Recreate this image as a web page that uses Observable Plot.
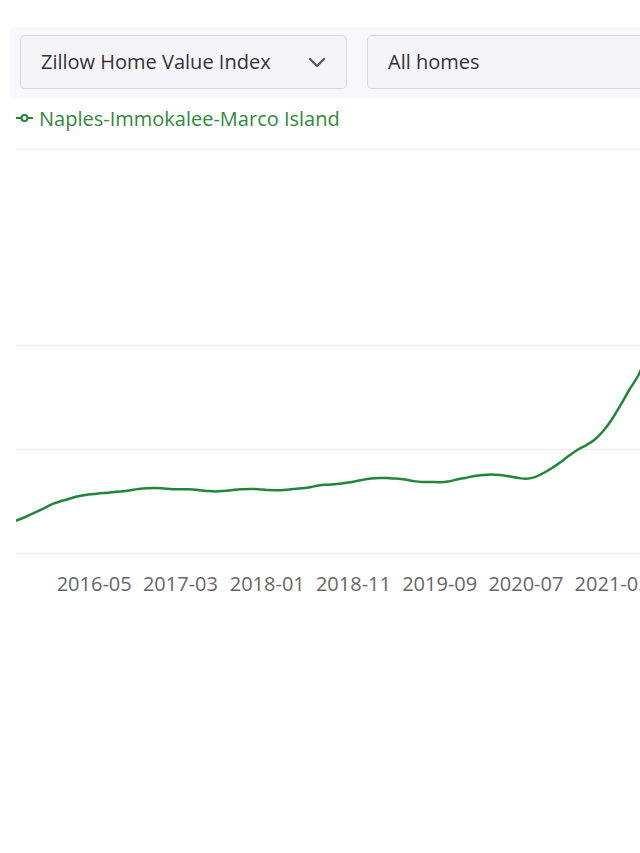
<!DOCTYPE html>
<html>
<head>
<meta charset="utf-8">
<script src="https://cdn.jsdelivr.net/npm/d3@7"></script>
<script src="https://cdn.jsdelivr.net/npm/@observablehq/plot@0.6"></script>
<style>
html, body { margin: 0; padding: 0; background: #fff; width: 640px; height: 853px; overflow: hidden; font-family: "Open Sans", "Noto Sans", sans-serif; }
#wrap { position: relative; width: 640px; height: 853px; overflow: hidden; }
.panel { position: absolute; left: 10px; top: 27px; width: 660px; height: 71px; background: #f8f8fa; border-radius: 4px; }
.sel { position: absolute; top: 35px; height: 54px; box-sizing: border-box; border: 1px solid #d9d9e0; border-radius: 5px; background: #f5f5f9; font-size: 20px; color: #333; line-height: 52px; padding-left: 20px; white-space: nowrap; }
.chev { position: absolute; right: 20px; top: 20px; width: 18px; height: 12px; }
.legend { position: absolute; left: 16px; top: 104px; height: 28px; display: flex; align-items: center; color: #2f8a3c; font-size: 20px; white-space: nowrap; }
.legend svg { margin-right: 6px; }
#chart { position: absolute; left: 0; top: 130px; }
</style>
</head>
<body>
<div id="wrap">
  <div class="panel"></div>
  <div class="sel" style="left:20px;width:327px;">Zillow Home Value Index
    <svg class="chev" viewBox="0 0 18 12"><path d="M2 3 L9 10 L16 3" fill="none" stroke="#555" stroke-width="2.2" stroke-linecap="round" stroke-linejoin="round"/></svg>
  </div>
  <div class="sel" style="left:367px;width:320px;">All homes</div>
  <div class="legend" id="legend"></div>
  <div id="chart"></div>
</div>
<script>
// --- data ---
const seriesName = "Naples-Immokalee-Marco Island";
const startMonth = "2015-08";
// Home value (thousands of USD), monthly from 2015-08
const values = [
  281.7, 285.1, 288.9, 292.8, 297.1, 300.0, 302.4, 304.8, 306.3, 307.2,
  308.1, 308.8, 309.6, 310.6, 311.9, 312.8, 313.0, 312.5, 311.8, 311.8,
  311.7, 311.1, 310.2, 309.6, 310.1, 311.0, 311.7, 312.1, 311.9, 311.0,
  310.9, 311.1, 312.0, 312.7, 313.7, 315.4, 316.2, 316.8, 317.8, 319.0,
  320.7, 322.1, 322.7, 322.5, 322.1, 321.2, 319.6, 318.8, 318.7, 318.6,
  319.2, 321.2, 322.7, 324.5, 325.5, 326.0, 325.4, 324.3, 322.8, 321.8,
  323.4, 327.4, 332.2, 338.0, 344.2, 350.0, 354.5, 359.6, 368.3, 379.3,
  393.3, 407.7, 421.2, 440.4
];
const tickLabels = ["2016-05", "2017-03", "2018-01", "2018-11", "2019-09", "2020-07", "2021-05"];
const gridValues = [250, 350, 450];
const yDomain = [250, 638.5];
const xDomain = ["2015-08-01", "2021-08-09"];

const green = "#22863a";
const parseMonth = d3.utcParse("%Y-%m");
const start = parseMonth(startMonth);
const data = values.map((v, i) => ({date: d3.utcMonth.offset(start, i), value: v}));
const ticks = tickLabels.map(parseMonth);

// legend
const leg = document.getElementById("legend");
leg.innerHTML = `<svg width="17" height="10" viewBox="0 0 17 10"><line x1="0" y1="5" x2="17" y2="5" stroke="${green}" stroke-width="2"/><circle cx="8.5" cy="5" r="3" fill="#fff" stroke="${green}" stroke-width="2"/></svg><span>${seriesName}</span>`;

const chart = Plot.plot({
  width: 640,
  height: 480,
  marginLeft: 16,
  marginRight: 0,
  marginTop: 19,
  marginBottom: 57,
  style: {fontFamily: "'Open Sans', 'Noto Sans', sans-serif", fontSize: "20px", color: "#666", background: "transparent"},
  x: {type: "utc", domain: xDomain.map(d => new Date(d)), label: null},
  y: {domain: yDomain, axis: null},
  marks: [
    Plot.ruleY(gridValues, {stroke: "#ececec", strokeWidth: 1}),
    Plot.ruleY([yDomain[1]], {stroke: "#ececec", strokeWidth: 1}),
    Plot.axisX(ticks, {tickSize: 0, tickPadding: 23, tickFormat: d3.utcFormat("%Y-%m"), fill: "#666", label: null}),
    Plot.lineY(data, {x: "date", y: "value", stroke: green, strokeWidth: 2.5, curve: "monotone-x", clip: true})
  ]
});
document.getElementById("chart").appendChild(chart);
</script>
</body>
</html>
